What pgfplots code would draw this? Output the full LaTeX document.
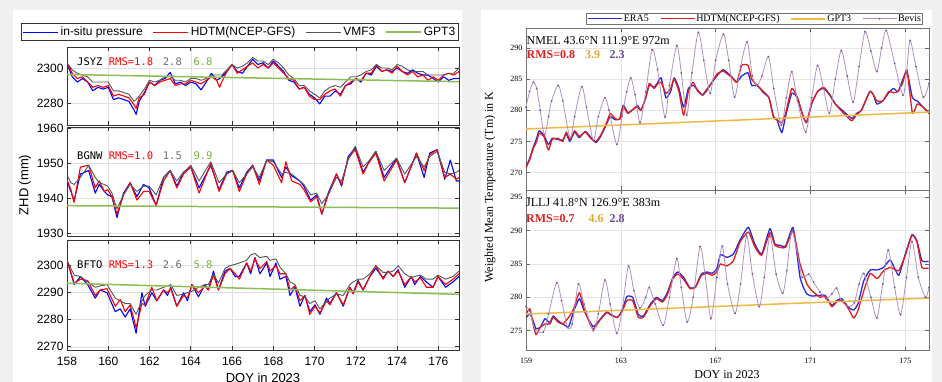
\documentclass[border=0pt]{standalone}
\usepackage{pgfplots}
\pgfplotsset{compat=1.18}
\usepackage{pgfplotstable}
\usepackage{fontspec}
\setmainfont{Liberation Sans}
\newfontfamily\timesfont{Liberation Serif}
\newfontfamily\monofont{DejaVu Sans Mono}

\definecolor{bgc}{RGB}{240,240,240}
\definecolor{cblue}{RGB}{0,0,255}
\definecolor{cred}{RGB}{255,0,0}
\definecolor{cvmf}{RGB}{85,85,85}
\definecolor{cvmft}{RGB}{110,110,110}
\definecolor{cgpt}{RGB}{140,190,85}
\definecolor{cgptt}{RGB}{120,175,60}
\definecolor{rblue}{RGB}{40,40,220}
\definecolor{rred}{RGB}{225,30,30}
\definecolor{rgpt}{RGB}{240,185,70}
\definecolor{rgptt}{RGB}{225,170,50}
\definecolor{rbev}{RGB}{175,145,195}
\definecolor{rbevm}{RGB}{120,90,150}
\definecolor{rbevt}{RGB}{110,70,140}

\pgfplotstableread{
d b r g
158.00 2303 2303 2303
158.25 2295 2297 2299
158.50 2292 2294 2297
158.75 2294 2295 2296
159.00 2292 2292 2295
159.25 2287 2289 2292
159.50 2289 2290 2292
159.75 2288 2289 2292
160.00 2289 2290 2292
160.25 2282 2284 2287
160.50 2283 2285 2287
160.75 2282 2284 2286
161.00 2281 2283 2285
161.25 2276 2279 2281
161.35 2273.5 2277 2282
161.50 2281 2283 2284
161.75 2286 2285 2288
162.00 2292 2292 2293
162.25 2290 2290 2292
162.50 2293 2292 2293
162.75 2294 2293 2295
163.00 2297.5 2294 2295
163.25 2291 2290 2293
163.50 2292 2291 2293
163.75 2290 2291 2292
164.00 2292 2293 2294
164.25 2291 2292 2294
164.50 2287.5 2291 2293
164.75 2292 2293 2294
165.00 2297 2295 2296
165.25 2293 2293 2296
165.40 2294 2289 2296
165.50 2295 2292 2296
165.75 2298 2298 2299
166.00 2302 2302 2302
166.25 2298 2297 2300
166.50 2297 2299 2301
166.75 2301 2301 2303
167.00 2305 2303 2306
167.25 2302 2300 2304
167.50 2303 2302 2304
167.75 2300 2300 2302
168.00 2304 2303 2305
168.25 2301 2300 2303
168.50 2298 2297 2300
168.75 2293 2294 2296
169.00 2292 2293 2294
169.25 2288 2288 2290
169.50 2289 2289 2290
169.75 2285 2284 2287
170.00 2283 2282 2285
170.25 2279.5 2282 2283
170.50 2284 2285 2287
170.75 2284 2287 2289
171.00 2287 2288 2290
171.25 2285 2284 2289
171.50 2290 2290 2292
171.75 2291 2292 2295
172.00 2294 2294 2295
172.25 2292 2293 2296
172.50 2297 2297 2298
172.75 2296 2297 2299
173.00 2301 2302 2302
173.25 2298 2298 2300
173.50 2299 2299 2300
173.75 2298 2297 2299
174.00 2300 2301 2302
174.25 2298 2298 2301
174.50 2297 2296 2299
174.75 2299 2298 2298
175.00 2297 2295 2298
175.25 2296 2296 2298
175.50 2296 2293 2296
175.75 2294 2295 2296
176.00 2292 2293 2296
176.25 2295 2296 2296
176.50 2293 2297 2297
176.75 2294 2296 2297
177.00 2294 2298 2300
}\tabJSYZ

\pgfplotstableread{
d b r g
158.00 1944.9 1945.3 1946.7
158.19 1942.0 1942.5 1944.5
158.34 1939.3 1938.8 1944.0
158.65 1947.0 1949.0 1946.0
159.05 1948.0 1949.5 1949.5
159.37 1941.5 1943.0 1946.0
159.56 1944.0 1945.0 1944.5
159.81 1942.0 1942.0 1944.0
159.97 1941.0 1942.5 1943.5
160.18 1940.5 1940.5 1941.5
160.42 1934.5 1935.5 1937.0
160.74 1941.5 1941.0 1941.0
161.06 1944.5 1944.5 1944.0
161.39 1940.5 1939.5 1942.0
161.71 1944.0 1942.0 1943.5
161.98 1943.0 1942.0 1943.5
162.32 1938.0 1938.0 1941.0
162.68 1946.0 1945.0 1946.0
163.00 1948.0 1948.0 1948.0
163.32 1943.5 1943.0 1945.0
163.65 1947.5 1947.0 1947.5
164.00 1949.0 1949.0 1949.5
164.40 1943.0 1941.5 1945.0
164.97 1949.5 1950.0 1950.5
165.37 1942.5 1942.0 1944.5
165.74 1947.5 1947.0 1947.0
166.03 1948.0 1948.0 1948.0
166.35 1943.0 1942.0 1944.5
166.71 1947.5 1947.0 1947.0
167.00 1949.5 1949.5 1949.0
167.32 1945.0 1944.0 1946.0
167.68 1951.0 1951.0 1951.0
168.00 1951.0 1949.5 1950.5
168.40 1946.0 1944.5 1947.0
168.61 1949.0 1950.5 1947.5
168.89 1946.5 1945.0 1947.0
169.29 1945.0 1944.0 1945.0
169.48 1943.5 1942.5 1944.0
169.81 1939.5 1939.0 1941.0
170.10 1941.0 1940.5 1941.5
170.35 1935.5 1935.5 1938.5
170.66 1941.5 1941.0 1941.0
171.06 1947.0 1947.0 1946.0
171.31 1943.5 1944.0 1945.0
171.63 1952.0 1951.5 1951.0
171.97 1954.5 1954.0 1955.0
172.35 1947.5 1947.0 1949.0
172.60 1950.0 1950.0 1950.5
172.97 1953.5 1953.0 1953.5
173.37 1946.0 1945.0 1948.0
173.97 1951.5 1951.0 1951.5
174.37 1944.5 1944.5 1947.0
174.94 1953.0 1953.0 1952.0
175.31 1946.0 1948.0 1949.0
175.58 1953.0 1952.5 1952.0
175.94 1954.0 1954.0 1953.5
176.31 1945.5 1946.0 1947.5
176.58 1951.0 1947.0 1947.0
176.87 1945.0 1945.5 1947.5
177.00 1945.0 1946.0 1948.0
}\tabBGNW

\pgfplotstableread{
d b r g
158.00 2302 2302 2302
158.35 2293 2293.5 2296.5
158.65 2296 2295 2296
159.00 2293 2294.5 2294
159.37 2288 2289 2292
159.61 2291 2291 2292.5
159.94 2290 2291.5 2293
160.34 2283 2285 2288
160.58 2284 2287.5 2287
160.82 2281 2283 2286
161.06 2284 2285.5 2286
161.35 2275 2277 2282
161.63 2290 2286 2287
161.79 2285 2285.5 2289
162.11 2290 2292 2291
162.35 2287 2287 2291
162.68 2291 2291 2292
162.87 2289 2290 2292.5
163.03 2292 2291.5 2293
163.32 2285 2285 2289
163.65 2290 2289 2289.5
163.84 2287 2288 2290
164.05 2293 2293 2290.5
164.37 2288.5 2290 2292
164.69 2293 2292.5 2293
164.85 2291 2291 2293
165.10 2298 2296.5 2297
165.34 2291 2291 2293.5
165.66 2298 2297 2299
165.90 2299 2299 2300
166.15 2296 2297 2300.5
166.35 2296 2295 2301
166.71 2301 2301 2302
166.90 2297 2298 2304
167.11 2303 2302.5 2304.5
167.35 2297 2299 2303
167.68 2301 2301.5 2303.5
167.84 2296 2298 2302
168.13 2301 2300 2302.5
168.32 2295 2297 2299.5
168.61 2296 2297 2297
168.81 2289 2291 2294
169.05 2292 2292.5 2293
169.29 2285 2287 2289
169.53 2289 2289 2288.5
169.77 2283 2282 2286
170.02 2285.5 2285 2287
170.26 2282 2282.5 2284
170.58 2288 2287 2287
170.74 2286 2285.5 2288
171.06 2290 2290 2289.5
171.39 2285 2285.5 2289
171.71 2292 2292 2293
171.87 2290 2289.5 2294
172.11 2294.5 2294 2295
172.35 2291 2291 2295
172.68 2296 2296 2297
172.97 2299 2300 2300
173.32 2295.5 2295 2297.5
173.56 2298 2298 2297.5
173.81 2296 2296 2298
174.05 2298.5 2298 2300
174.37 2292 2293 2297
174.69 2296 2296 2295.5
174.85 2293 2294 2296
175.13 2296 2295.5 2296.5
175.42 2294 2292 2295
175.74 2292 2292 2295
175.98 2296 2296 2296.5
176.35 2292 2293 2295
176.71 2294 2295 2296
177.00 2296 2297 2298
}\tabBFTO

\pgfplotstableread{
d e h
159.00 271.0 270.8
159.15 272.2 272.0
159.30 274.0 273.8
159.45 275.5 275.0
159.55 276.7 276.3
159.75 276.0 275.8
159.95 274.5 273.6
160.10 275.5 275.3
160.35 275.3 275.5
160.55 275.2 275.0
160.70 276.2 276.5
160.85 275.0 275.2
161.05 276.5 276.7
161.25 275.6 275.8
161.50 276.6 276.5
161.75 275.6 275.4
161.95 274.8 275.0
162.15 275.8 276.0
162.40 277.8 278.0
162.55 279.0 279.5
162.75 278.5 278.7
162.95 278.6 278.5
163.10 280.8 280.5
163.30 279.6 279.5
163.55 280.2 280.3
163.70 280.8 280.5
163.85 280.0 280.0
164.05 282.0 282.0
164.20 284.0 284.3
164.40 283.7 283.5
164.55 284.4 284.2
164.70 285.2 284.5
164.90 282.0 282.7
165.10 283.0 283.5
165.25 285.2 285.0
165.45 283.5 283.0
165.65 280.5 279.2
165.85 283.5 283.0
166.05 284.0 284.5
166.25 283.2 283.0
166.45 282.4 282.5
166.65 283.3 283.5
166.85 284.5 284.5
167.05 285.5 285.8
167.30 286.5 286.3
167.50 286.0 285.8
167.70 285.3 285.2
167.89 284.5 284.5
168.10 285.5 287.2
168.37 286.0 287.2
168.52 284.0 285.0
168.75 284.0 284.0
169.02 282.8 283.0
169.25 282.0 282.0
169.44 279.0 278.8
169.58 278.5 278.5
169.79 276.4 278.0
169.95 279.0 279.5
170.21 282.7 283.5
170.45 282.0 282.0
170.65 279.5 279.5
170.83 278.0 278.0
171.05 281.0 281.2
171.30 283.0 283.0
171.55 283.5 283.7
171.80 282.5 282.6
172.05 281.0 281.0
172.40 279.8 279.5
172.74 278.7 278.3
172.95 279.5 279.3
173.15 280.0 280.0
173.50 283.0 283.0
173.65 282.5 282.5
173.80 281.0 281.5
174.05 281.5 281.5
174.30 282.8 283.0
174.50 283.5 282.8
174.70 283.0 283.0
174.90 285.0 284.5
175.07 286.2 286.5
175.30 282.0 279.5
175.50 281.5 281.0
175.75 280.5 280.5
176.00 279.5 279.5
}\tabNMEL

\pgfplotstableread{
d v
159.00 280.5
159.15 283.0
159.31 284.5
159.45 283.5
159.60 280.0
159.78 276.0
159.95 279.0
160.08 281.5
160.36 284.0
160.55 281.5
160.86 275.5
161.05 279.0
161.35 283.8
161.55 280.5
161.84 275.2
162.05 279.0
162.33 282.0
162.50 280.0
162.83 274.5
163.05 279.0
163.25 283.0
163.42 285.2
163.60 282.5
163.81 278.0
164.05 283.0
164.32 289.7
164.55 286.5
164.86 278.9
165.05 284.0
165.36 290.4
165.55 286.0
165.78 279.2
166.00 286.0
166.27 292.5
166.50 288.0
166.77 282.7
167.00 288.0
167.33 292.2
167.55 288.0
167.80 282.1
168.05 287.0
168.33 291.0
168.55 285.5
168.75 284.0
168.95 285.5
169.23 288.6
169.45 283.5
169.77 277.6
169.98 282.0
170.21 286.2
170.45 281.5
170.80 276.5
171.05 282.0
171.30 287.2
171.55 283.5
171.80 279.5
172.05 285.0
172.30 289.6
172.55 285.5
172.80 281.3
173.05 287.0
173.30 292.6
173.55 289.5
173.80 286.2
174.00 290.0
174.20 292.8
174.55 287.5
174.90 282.4
175.05 286.0
175.20 291.2
175.45 287.0
175.76 282.1
176.00 284.3
}\tabNMELb

\pgfplotstableread{
d e h
159.00 277.0 277.5
159.17 277.5 278.3
159.30 276.5 276.0
159.42 275.3 274.4
159.60 275.5 275.5
159.80 276.8 276.0
160.00 276.2 276.0
160.15 277.2 277.0
160.35 276.5 276.3
160.55 276.0 276.0
160.80 275.6 277.0
161.00 277.8 278.2
161.25 279.8 280.7
161.45 278.0 278.3
161.70 276.3 276.0
161.85 275.6 275.2
162.10 276.6 276.5
162.40 277.8 277.7
162.60 277.4 277.3
162.85 277.0 277.0
163.05 278.0 277.8
163.25 280.1 279.5
163.50 280.0 279.5
163.74 277.4 277.0
163.95 277.2 277.0
164.25 279.0 278.8
164.50 280.0 279.8
164.75 279.5 279.3
164.95 280.6 280.3
165.20 283.0 282.8
165.40 283.8 283.5
165.65 283.0 282.7
165.92 281.4 281.3
166.15 281.6 281.5
166.40 283.5 283.3
166.65 283.8 283.6
166.85 283.6 283.3
167.05 284.3 283.8
167.20 286.4 285.0
167.47 286.0 284.7
167.75 286.5 285.5
168.03 288.6 288.3
168.38 290.5 289.8
168.65 288.0 287.6
168.94 286.5 286.3
169.29 290.3 289.7
169.50 288.0 287.8
169.72 287.8 287.5
169.95 287.7 287.5
170.26 290.5 290.0
170.45 286.0 287.0
170.56 283.0 285.0
170.70 281.5 283.5
170.85 280.5 282.0
171.06 280.2 281.0
171.41 280.3 280.0
171.62 280.3 280.2
171.90 278.8 278.6
172.10 279.5 279.3
172.32 279.8 279.6
172.60 278.5 278.3
172.82 278.1 276.9
173.00 279.0 278.0
173.25 282.5 281.0
173.52 284.1 283.6
173.81 284.1 282.8
174.09 284.5 284.0
174.37 285.6 284.5
174.72 283.3 284.0
175.00 286.5 286.3
175.28 289.4 289.3
175.49 288.5 288.3
175.70 285.5 284.5
175.98 285.4 284.4
}\tabJLLJ

\pgfplotstableread{
d v
159.00 278.6
159.15 278.0
159.38 275.2
159.73 274.8
159.95 277.5
160.29 282.2
160.50 279.5
160.75 275.5
160.95 276.0
161.21 282.0
161.45 279.0
161.84 275.0
162.05 277.5
162.33 282.6
162.55 279.0
162.83 274.6
163.05 278.0
163.32 284.7
163.55 281.0
163.80 278.4
164.05 280.0
164.20 281.5
164.45 279.0
164.79 275.8
165.05 280.0
165.36 285.8
165.55 281.5
165.80 276.3
166.05 280.0
166.34 287.6
166.55 283.5
166.80 276.8
167.05 283.0
167.28 287.7
167.50 282.0
167.82 277.6
168.05 282.0
168.31 289.2
168.55 283.5
168.84 278.6
169.05 283.0
169.29 289.2
169.55 283.5
169.83 280.6
170.00 284.0
170.21 289.9
170.45 286.5
170.65 283.0
170.92 283.5
171.13 282.3
171.40 280.8
171.65 279.8
171.90 280.5
172.10 281.4
172.30 279.5
172.60 278.6
172.85 279.2
173.05 282.0
173.25 283.6
173.55 280.0
173.80 276.9
174.05 282.0
174.28 287.1
174.55 281.5
174.80 277.4
175.05 283.0
175.28 288.4
175.55 283.0
175.85 280.0
176.00 281.5
}\tabJLLJb

\pgfplotsset{
 leftax/.style={scale only axis, width=392pt, xmin=158, xmax=177, xtick={158,160,...,176},
   tick align=inside, xmajorgrids, ymajorgrids,
   grid style={black!12, line width=0.5pt},
   axis line style={black!80, line width=0.7pt},
   major tick style={black!80, line width=0.6pt}, major tick length=4pt,
   ticklabel style={font=\fontsize{12}{12}\selectfont},
   /pgf/number format/assume math mode=true, /pgf/number format/1000 sep={},
   scaled ticks=false, clip=true},
 rightax/.style={scale only axis, width=403pt, xmin=159, xmax=176, xtick={159,163,167,171,175},
   tick align=inside, xmajorgrids, ymajorgrids,
   grid style={black!10, line width=0.5pt},
   axis line style={black!55, line width=0.7pt},
   major tick style={black!60, line width=0.6pt}, major tick length=4pt,
   ticklabel style={font=\timesfont\fontsize{8}{8}\selectfont},
   /pgf/number format/assume math mode=true, /pgf/number format/1000 sep={},
   scaled ticks=false, clip=true},
 bl/.style={cblue, line width=1.1pt, line join=round},
 rl/.style={cred, line width=1.1pt, line join=round},
 gl/.style={cvmf, line width=0.9pt, line join=round},
 gpl/.style={cgpt, line width=1.5pt},
 rbl/.style={rblue, line width=1.3pt, line join=round, smooth, tension=0.3},
 rrl/.style={rred, line width=1.3pt, line join=round, smooth, tension=0.3},
 rgl/.style={rgpt, line width=1.5pt},
 bev/.style={rbev, line width=0.8pt, smooth, tension=0.45, mark=*, mark size=0.45pt, mark options={fill=rbevm, draw=rbevm}},
}

\begin{document}
\begin{tikzpicture}
\useasboundingbox (0pt,0pt) rectangle (942pt,382pt);
\fill[bgc] (0pt,0pt) rectangle (942pt,382pt);
\fill[white] (13pt,0pt) rectangle (462pt,372pt);
\fill[white] (481pt,0pt) rectangle (932pt,372pt);

% ---------- left: JSYZ
\begin{axis}[leftax, at={(67pt,257pt)}, anchor=south west, height=78pt,
  ymin=2267.5, ymax=2312, ytick={2280,2300}, xticklabels={},
  legend columns=4,
  legend style={at={(1,1.077)}, anchor=south east, draw=black!80, line width=0.6pt,
    font=\fontsize{12}{12}\selectfont, inner sep=1.5pt,
    /tikz/every even column/.append style={column sep=8pt}},
  legend image code/.code={\draw[#1] (0pt,0pt) -- (35pt,0pt);}]
\addplot[bl] table[x=d,y=b] {\tabJSYZ};
\addplot[rl] table[x=d,y=r] {\tabJSYZ};
\addplot[gl] table[x=d,y=g] {\tabJSYZ};
\addplot[gpl] coordinates {(158,2296.3) (177,2292.2)};
\legend{in-situ pressure, HDTM(NCEP-GFS), VMF3, GPT3}
\end{axis}

% ---------- left: BGNW
\begin{axis}[leftax, at={(67pt,145.3pt)}, anchor=south west, height=109.4pt,
  ymin=1929, ymax=1960.4, ytick={1930,1940,1950,1960}, xticklabels={}]
\addplot[bl] table[x=d,y=b] {\tabBGNW};
\addplot[rl] table[x=d,y=r] {\tabBGNW};
\addplot[gl] table[x=d,y=g] {\tabBGNW};
\addplot[gpl] coordinates {(158,1937.9) (177,1937.2)};
\end{axis}

% ---------- left: BFTO
\begin{axis}[leftax, at={(67pt,32pt)}, anchor=south west, height=110pt,
  ymin=2268.8, ymax=2309.5, ytick={2270,2280,2290,2300},
  xticklabel style={yshift=-4pt}]
\addplot[bl] table[x=d,y=b] {\tabBFTO};
\addplot[rl] table[x=d,y=r] {\tabBFTO};
\addplot[gl] table[x=d,y=g] {\tabBFTO};
\addplot[gpl] coordinates {(158,2293.5) (177,2289.4)};
\end{axis}

% ---------- right: NMEL
\begin{axis}[rightax, at={(526pt,192pt)}, anchor=south west, height=162pt,
  ymin=267.2, ymax=293.2, ytick={270,275,280,285,290}, xticklabels={},
  legend columns=4,
  legend style={at={(0.985,1.0185)}, anchor=south east, draw=black!55, line width=0.6pt,
    font=\timesfont\fontsize{10}{10}\selectfont, inner sep=0.6pt,
    nodes={inner sep=1.1pt},
    /tikz/every even column/.append style={column sep=10pt}},
  legend image code/.code={\draw[mark repeat=2, mark phase=2, #1] plot coordinates {(0pt,0pt) (17pt,0pt) (34pt,0pt)};}]
\addplot[rbl] table[x=d,y=e] {\tabNMEL};
\addplot[rrl] table[x=d,y=h] {\tabNMEL};
\addplot[rgl] coordinates {(159,277.0) (176,279.7)};
\addplot[bev] table[x=d,y=v] {\tabNMELb};
\legend{ERA5, HDTM(NCEP-GFS), GPT3, Bevis}
\end{axis}

% ---------- right: JLLJ
\begin{axis}[rightax, at={(526pt,31.3pt)}, anchor=south west, height=160.7pt,
  ymin=272, ymax=296.1, ytick={275,280,285,290,295},
  xticklabel style={yshift=-4pt}]
\addplot[rbl] table[x=d,y=e] {\tabJLLJ};
\addplot[rrl] table[x=d,y=h] {\tabJLLJ};
\addplot[rgl] coordinates {(159,277.5) (176,279.9)};
\addplot[bev] table[x=d,y=v] {\tabJLLJb};
\end{axis}

% ---------- left annotations
\begin{scope}[every node/.style={anchor=west, inner sep=0pt, font=\monofont\fontsize{10.5}{10.5}\selectfont}]
\node at (77pt,320pt) {JSYZ};
\node[text=cred] at (108.7pt,320pt) {RMS=1.8};
\node[text=cvmft] at (162.7pt,320pt) {2.8};
\node[text=cgptt] at (193.3pt,320pt) {6.8};
\node at (77pt,226pt) {BGNW};
\node[text=cred] at (108.7pt,226pt) {RMS=1.0};
\node[text=cvmft] at (162.7pt,226pt) {1.5};
\node[text=cgptt] at (193.3pt,226pt) {9.9};
\node at (77pt,117pt) {BFTO};
\node[text=cred] at (108.7pt,117pt) {RMS=1.3};
\node[text=cvmft] at (162.7pt,117pt) {2.6};
\node[text=cgptt] at (193.3pt,117pt) {5.8};
\end{scope}
\node[rotate=90, inner sep=0pt, font=\fontsize{13}{13}\selectfont] at (25pt,197pt) {ZHD (mm)};
\node[anchor=north, inner sep=0pt, font=\fontsize{13}{13}\selectfont] at (263pt,9pt) {DOY in 2023};

% ---------- right annotations
\begin{scope}[every node/.style={anchor=west, inner sep=0pt, font=\timesfont\fontsize{12}{12}\selectfont}]
\node at (526.5pt,341.3pt) {NMEL 43.6°N 111.9°E 972m};
\node[text=rred, font=\timesfont\bfseries\fontsize{12}{12}\selectfont] at (526.5pt,327.7pt) {RMS=0.8};
\node[text=rgptt, font=\timesfont\bfseries\fontsize{12}{12}\selectfont] at (585pt,327.7pt) {3.9};
\node[text=rbevt, font=\timesfont\bfseries\fontsize{12}{12}\selectfont] at (609.3pt,327.7pt) {2.3};
\node at (526pt,179pt) {JLLJ 41.8°N 126.9°E 383m};
\node[text=rred, font=\timesfont\bfseries\fontsize{12}{12}\selectfont] at (526pt,163.3pt) {RMS=0.7};
\node[text=rgptt, font=\timesfont\bfseries\fontsize{12}{12}\selectfont] at (588.3pt,163.3pt) {4.6};
\node[text=rbevt, font=\timesfont\bfseries\fontsize{12}{12}\selectfont] at (609.3pt,163.3pt) {2.8};
\end{scope}
\node[rotate=90, inner sep=0pt, font=\timesfont\fontsize{12}{12}\selectfont] at (490pt,195pt) {Weighted Mean Temperature (Tm) in K};
\node[inner sep=0pt, font=\timesfont\fontsize{12}{12}\selectfont] at (727pt,7pt) {DOY in 2023};
\end{tikzpicture}
\end{document}
